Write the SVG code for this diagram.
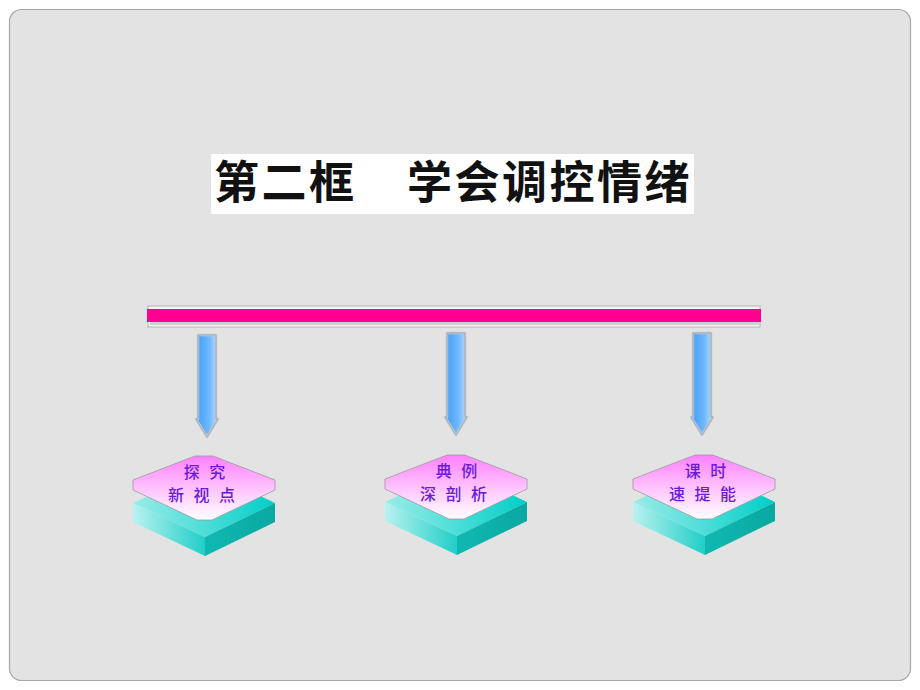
<svg xmlns="http://www.w3.org/2000/svg" width="920" height="690" viewBox="0 0 920 690">
  <defs>
    <linearGradient id="shaft" x1="0" y1="0" x2="1" y2="0">
      <stop offset="0" stop-color="#3f9cf5"/>
      <stop offset="0.6" stop-color="#6fb8ff"/>
      <stop offset="1" stop-color="#b9dcff"/>
    </linearGradient>
    <linearGradient id="pinkTop" x1="0" y1="0" x2="0" y2="1">
      <stop offset="0" stop-color="#ff80ff"/>
      <stop offset="0.55" stop-color="#ffc8ff"/>
      <stop offset="1" stop-color="#ffffff"/>
    </linearGradient>
    <linearGradient id="tealLeft" x1="0" y1="0" x2="1" y2="0">
      <stop offset="0" stop-color="#b8f2f0"/>
      <stop offset="1" stop-color="#22cec8"/>
    </linearGradient>
    <linearGradient id="tealRight" x1="0" y1="0" x2="1" y2="0">
      <stop offset="0" stop-color="#10b8b2"/>
      <stop offset="1" stop-color="#0aa8a2"/>
    </linearGradient>
    <linearGradient id="tealTop" x1="0" y1="0" x2="1" y2="0">
      <stop offset="0" stop-color="#9aece8"/>
      <stop offset="1" stop-color="#00cfc8"/>
    </linearGradient>
    <g id="arrow">
      <path d="M-9,0 H9 V84 H11 L0,102 L-11,84 H-9 Z" fill="url(#shaft)" stroke="#c8c8c8" stroke-width="2.5" stroke-linejoin="round"/>
      <path d="M-9,0 H9 V84 H11 L0,102 L-11,84 H-9 Z" fill="none" stroke="#7a9ec8" stroke-width="0.6"/>
    </g>
    <g id="box">
      <path d="M-71,47 L1,14 L71,47 L1,81 Z" fill="url(#tealTop)"/>
      <path d="M-71,47 L1,81 L1,100 L-71,66 Z" fill="url(#tealLeft)"/>
      <path d="M1,81 L71,47 L71,66 L1,100 Z" fill="url(#tealRight)"/>
      <path d="M-71,24 L-9,0 L9,0 L71,24 L71,34 L8,64 L-7,64 L-71,34 Z" fill="url(#pinkTop)" stroke="#9a9a9a" stroke-width="0.8"/>
    </g>
    <style>
      .lbl { font-family: "Noto Sans CJK SC", "Noto Sans", sans-serif; font-size: 16px; fill: #6a1ad8; text-anchor: middle; font-weight: 500; letter-spacing: 3px; }
      .title { font-family: "Noto Sans CJK SC", sans-serif; font-size: 45px; font-weight: 700; fill: #111; letter-spacing: 2.5px; }
    </style>
  </defs>

  <rect x="0" y="0" width="920" height="690" fill="#ffffff"/>
  <rect x="9.5" y="9.5" width="901" height="671" rx="12" ry="12" fill="#e3e3e3" stroke="#a8a8a8" stroke-width="1.2"/>

  <g id="title">
    <rect x="211" y="154" width="483" height="60" fill="#ffffff"/>
    <text class="title" x="214" y="199">第二框</text>
    <text class="title" x="407" y="199">学会调控情绪</text>
  </g>

  <g id="bar">
    <rect x="148" y="306" width="612" height="21" fill="#f4f4f4" stroke="#b4b4b4" stroke-width="1"/>
    <rect x="150" y="322" width="610" height="3" fill="#cfcfcf"/>
    <rect x="147" y="309" width="614" height="13" fill="#ff0090"/>
  </g>

  <g id="connectors">
    <use href="#arrow" x="207" y="335"/>
    <use href="#arrow" x="456" y="333"/>
    <use href="#arrow" x="702" y="333"/>
  </g>

  <g id="node1">
    <use href="#box" x="204" y="456"/>
    <text class="lbl" x="206" y="478">探 究</text>
    <text class="lbl" x="203" y="501">新 视 点</text>
  </g>
  <g id="node2">
    <use href="#box" x="456" y="455"/>
    <text class="lbl" x="458" y="477">典 例</text>
    <text class="lbl" x="455" y="500">深 剖 析</text>
  </g>
  <g id="node3">
    <use href="#box" x="704" y="455"/>
    <text class="lbl" x="707" y="477">课 时</text>
    <text class="lbl" x="704" y="500">速 提 能</text>
  </g>
</svg>
